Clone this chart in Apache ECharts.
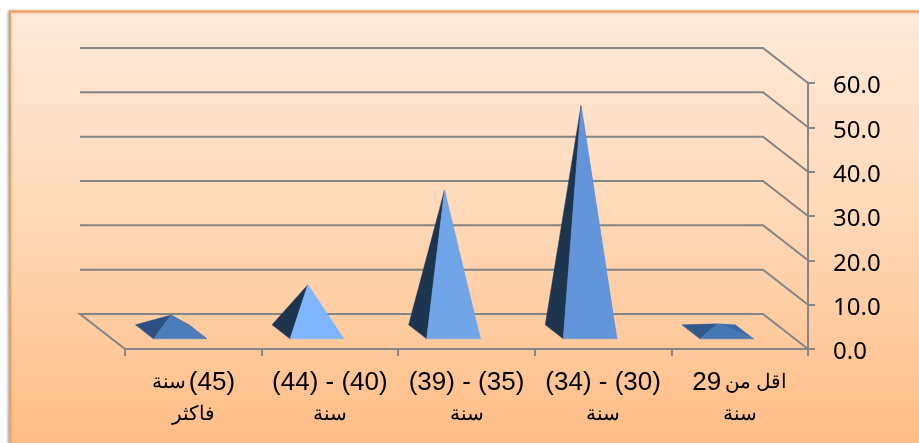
<!DOCTYPE html>
<html><head><meta charset="utf-8">
<style>html,body{margin:0;padding:0;background:#fff}#c{width:919px;height:443px}</style>
<script src="https://cdn.jsdelivr.net/npm/echarts@6/dist/echarts.min.js"></script>
</head><body><div id="c"></div>
<script>
const categories = ["{a|سنة} {l|(45)}\n{a|فاكثر}", "{l|(44) - (40)}\n{a|سنة}", "{l|(39) - (35)}\n{a|سنة}", "{l|(34) - (30)}\n{a|سنة}", "{l|29} {a|اقل من}\n{a|سنة}"];
const values = [3.8, 10.6, 31.9, 51.0, 1.8];
const frontColors = ["#4A7DBA", "#80B5FF", "#70A5E8", "#6295D9", "#4478B4"];
const sideColors = ["#2C5080", "#1E3550", "#1E3550", "#1E3550", "#30598C"];
const rightColors = ["#3F6EA6", "#80B5FF", "#70A5E8", "#6295D9", "#3C6CA5"];
const gridValues = [0, 10, 20, 30, 40, 50, 60];

const depthX = -45, depthY = -35;
const proj = (p, d) => [p[0] + depthX * d, p[1] + depthY * d];
const nCat = categories.length;

const chart = echarts.init(document.getElementById('c'), null, {renderer: 'canvas'});
chart.setOption({
  animation: false,
  graphic: [{
    type: 'rect', silent: true, z: -10,
    shape: {x: 10, y: 11.5, width: 915, height: 440},
    style: {
      fill: new echarts.graphic.LinearGradient(0, 0, 0, 1, [
        {offset: 0, color: '#FFEADB'}, {offset: 0.5, color: '#FFD7B5'}, {offset: 1, color: '#FFBC84'}
      ]),
      stroke: '#FA9C55', lineWidth: 2,
      shadowColor: 'rgba(0,0,0,0.3)', shadowBlur: 3, shadowOffsetX: -1
    }
  }],
  grid: {left: 125, right: 111, top: 83, bottom: 94},
  xAxis: {
    type: 'category', data: categories,
    axisLine: {show: true, onZero: false, lineStyle: {color: '#868686', width: 2}},
    axisTick: {show: true, length: 7, lineStyle: {color: '#868686', width: 2}},
    axisLabel: {color: '#000', margin: 18, interval: 0, lineHeight: 32,
      rich: {
        l: {fontFamily: 'Liberation Sans', fontSize: 26, color: '#000', lineHeight: 32},
        a: {fontFamily: 'Liberation Sans', fontSize: 19.5, color: '#000', lineHeight: 32}
      }}
  },
  yAxis: {
    type: 'value', position: 'right', min: 0, max: 60, interval: 10,
    axisLine: {show: true, lineStyle: {color: '#868686', width: 2}},
    axisTick: {show: true, length: 7, lineStyle: {color: '#868686', width: 2}},
    splitLine: {show: false},
    axisLabel: {color: '#000', fontFamily: 'Noto Sans', fontSize: 24, margin: 25, align: 'left',
      verticalAlign: 'top', lineHeight: 7,
      formatter: v => v.toFixed(1)}
  },
  series: [{
    type: 'custom', coordinateSystem: 'cartesian2d', silent: true, z: 1,
    data: gridValues.map(v => [0, v]),
    encode: {x: 0, y: 1},
    renderItem(params, api) {
      const v = api.value(1);
      const band = api.size([1, 0])[0];
      const y = api.coord([0, v])[1];
      const left = api.coord([0, v])[0] - band / 2;
      const right = api.coord([nCat - 1, v])[0] + band / 2;
      const pts = [[right, y], proj([right, y], 1), proj([left, y], 1)];
      if (v === 0) pts.push([left, y]);
      return {type: 'polyline', shape: {points: pts},
        style: {stroke: '#848484', lineWidth: 2, fill: null}};
    }
  }, {
    type: 'custom', coordinateSystem: 'cartesian2d', silent: true, z: 3,
    data: values.map((v, i) => [i, v]),
    encode: {x: 0, y: 1},
    renderItem(params, api) {
      const i = params.dataIndex;
      const c = api.coord([i, 0]);
      const top = api.coord([i, api.value(1)]);
      const band = api.size([1, 0])[0];
      const half = band * 0.196;
      const fl = proj([c[0] - half, c[1]], 0.29);
      const fr = proj([c[0] + half, c[1]], 0.29);
      const bl = proj([c[0] - half, c[1]], 0.69);
      const br = proj([c[0] + half, c[1]], 0.69);
      const apex = proj([c[0], top[1]], 0.49);
      const face = (pts, color) => ({type: 'polygon', shape: {points: pts},
        style: {fill: color, stroke: color, lineWidth: 0.5}});
      return {type: 'group', children: [
        face([fr, br, apex], rightColors[i]),
        face([bl, fl, apex], sideColors[i]),
        face([fl, fr, apex], frontColors[i])
      ]};
    }
  }]
});
</script></body></html>
